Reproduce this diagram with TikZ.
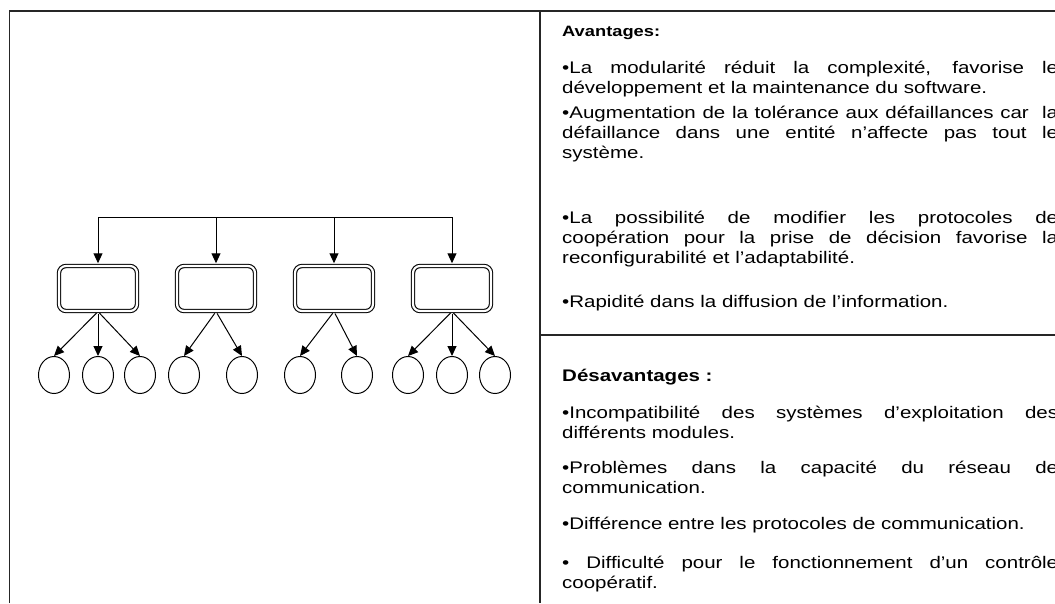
\documentclass[tikz,border=0pt]{standalone}
\usepackage{fontspec}
\setmainfont[FakeStretch=1.22]{Liberation Sans}
\usetikzlibrary{arrows.meta,shapes.geometric}
\hyphenpenalty=10000
\exhyphenpenalty=10000
\begin{document}
\begin{tikzpicture}[x=1pt,y=-1pt,
  frame/.style={line width=1.3pt, draw=black!85},
  module/.style={draw, double, double distance=2.2pt, line width=1.1pt,
    rounded corners=7pt, minimum width=78pt, minimum height=45pt, inner sep=0},
  leaf/.style={draw, ellipse, line width=1pt, minimum width=31pt,
    minimum height=37pt, inner sep=0},
  link/.style={line width=1pt, -{Triangle[length=10pt,width=9pt]}},
  para/.style={anchor=base west, inner sep=0, text width=496pt, align=justify,
    font=\fontsize{16.8}{20}\selectfont},
  head/.style={anchor=base west, inner sep=0,
    font=\bfseries\fontsize{16.8}{20}\selectfont}]
\useasboundingbox (0,0) rectangle (1055,603);

% table frame
\draw[frame] (9.5,603) -- (9.5,11) -- (1055,11);
\draw[frame] (540,11) -- (540,603);
\draw[frame] (540,335) -- (1055,335);

% distribution bus
\coordinate (b1) at (98,217);
\coordinate (b2) at (216,217);
\coordinate (b3) at (334,217);
\coordinate (b4) at (452,217);
\draw[line width=1pt] (b1) -- (b4);

% modules
\node[module] (m1) at (98,288.5) {};
\node[module] (m2) at (216,288.5) {};
\node[module] (m3) at (334,288.5) {};
\node[module] (m4) at (452,288.5) {};
\foreach \i in {1,...,4}
  \draw[link, shorten >=2.2pt] (b\i) -- (m\i.north);

% leaves
\node[leaf] (c1) at (54,375) {};
\node[leaf] (c2) at (98,375) {};
\node[leaf] (c3) at (140,375) {};
\node[leaf] (c4) at (184,375) {};
\node[leaf] (c5) at (242,375) {};
\node[leaf] (c6) at (300,375) {};
\node[leaf] (c7) at (357,375) {};
\node[leaf] (c8) at (408,375) {};
\node[leaf] (c9) at (452,375) {};
\node[leaf] (c10) at (495,375) {};
\foreach \m/\c in {m1/c1,m1/c2,m1/c3,m2/c4,m2/c5,m3/c6,m3/c7,m4/c8,m4/c9,m4/c10}
  \draw[link, shorten <=2.2pt] (\m.south) -- (\c.north);

% advantages
\node[head, font=\bfseries\fontsize{15}{20}\selectfont] (hA) at (562,36) {Avantages:};
\node[para] (a1) at (562,73) {•La modularité réduit la complexité, favorise le\linebreak développement et la maintenance du software.};
\node[para] (a2) at (562,118) {•Augmentation de la tolérance aux défaillances car \ la\linebreak défaillance dans une entité n’affecte pas tout le\linebreak système.};
\node[para] (a3) at (562,223) {•La possibilité de modifier les protocoles de\linebreak coopération pour la prise de décision favorise la\linebreak reconfigurabilité et l’adaptabilité.};
\node[para] (a4) at (562,307) {•Rapidité dans la diffusion de l’information.};

% disadvantages
\node[head] (hD) at (562,381) {Désavantages :};
\node[para] (d1) at (562,418) {•Incompatibilité des systèmes d’exploitation des\linebreak différents modules.};
\node[para] (d2) at (562,473) {•Problèmes dans la capacité du réseau de\linebreak communication.};
\node[para] (d3) at (562,529) {•Différence entre les protocoles de communication.};
\node[para] (d4) at (562,568) {• Difficulté pour le fonctionnement d’un contrôle\linebreak coopératif.};
\end{tikzpicture}
\end{document}
